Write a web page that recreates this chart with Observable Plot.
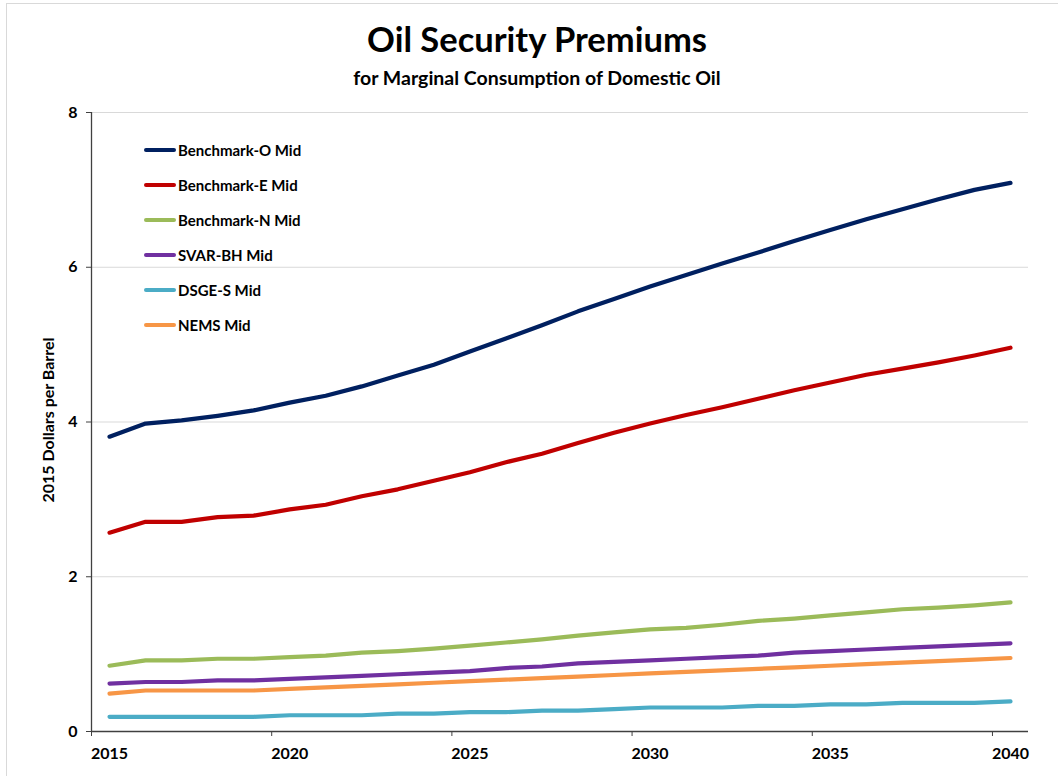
<!DOCTYPE html>
<html>
<head>
<meta charset="utf-8">
<script src="https://cdn.jsdelivr.net/npm/d3@7"></script>
<script src="https://cdn.jsdelivr.net/npm/@observablehq/plot@0.6"></script>
<style>
  html, body { margin: 0; padding: 0; background: #fff; }
  body { width: 1058px; height: 776px; overflow: hidden; font-family: Lato, "Open Sans", sans-serif; }
  #wrap { position: relative; width: 1058px; height: 776px; }
  #frame { position: absolute; left: 6px; top: 3px; width: 1060px; height: 780px; border-left: 1.5px solid #d9d9d9; border-top: 1.5px solid #d9d9d9; pointer-events: none; }
  #head { height: 100px; text-align: center; position: relative; }
  #title { position: absolute; left: 0; right: 0; top: 18px; font-size: 34.5px; font-weight: 700; color: #000; margin-left: 16px; }
  #subtitle { position: absolute; left: 0; right: 0; top: 66px; font-size: 19.5px; font-weight: 700; color: #000; margin-left: 16px; }
  #legend { position: absolute; left: 144px; top: 140px; }
  .li { position: relative; height: 35px; display: flex; align-items: flex-start; }
  .sw { width: 32px; height: 4px; border-radius: 2px; margin-top: 8px; margin-right: 2px; }
  .lt { font-size: 15px; font-weight: 700; color: #000; line-height: 20px; }
  #ylab { position: absolute; left: 47px; top: 420px; transform: translate(-50%, -50%) rotate(-90deg); white-space: nowrap; font-size: 16px; font-weight: 700; color: #000; }
</style>
</head>
<body>
<div id="wrap">
  <div id="head">
    <div id="title">Oil Security Premiums</div>
    <div id="subtitle">for Marginal Consumption of Domestic Oil</div>
  </div>
  <div id="chart"></div>
  <div id="legend"></div>
  <div id="ylab">2015 Dollars per Barrel</div>
  <div id="frame"></div>
</div>
<script>
const years = d3.range(2015, 2041);
const seriesNames = ["Benchmark-O Mid", "Benchmark-E Mid", "Benchmark-N Mid", "SVAR-BH Mid", "DSGE-S Mid", "NEMS Mid"];
const seriesColors = ["#002060", "#C00000", "#9BBB59", "#7030A0", "#4BACC6", "#F79646"];
const benchmarkO = [3.81, 3.98, 4.02, 4.08, 4.15, 4.25, 4.34, 4.46, 4.60, 4.74, 4.91, 5.08, 5.25, 5.43, 5.59, 5.75, 5.90, 6.05, 6.19, 6.34, 6.48, 6.62, 6.75, 6.88, 7.00, 7.09];
const benchmarkE = [2.57, 2.71, 2.71, 2.77, 2.79, 2.87, 2.93, 3.04, 3.13, 3.24, 3.35, 3.48, 3.59, 3.73, 3.86, 3.98, 4.09, 4.19, 4.30, 4.41, 4.51, 4.61, 4.69, 4.77, 4.86, 4.96];
const benchmarkN = [0.85, 0.92, 0.92, 0.94, 0.94, 0.96, 0.98, 1.02, 1.04, 1.07, 1.11, 1.15, 1.19, 1.24, 1.28, 1.32, 1.34, 1.38, 1.43, 1.46, 1.50, 1.54, 1.58, 1.60, 1.63, 1.67];
const svarBH = [0.62, 0.64, 0.64, 0.66, 0.66, 0.68, 0.70, 0.72, 0.74, 0.76, 0.78, 0.82, 0.84, 0.88, 0.90, 0.92, 0.94, 0.96, 0.98, 1.02, 1.04, 1.06, 1.08, 1.10, 1.12, 1.14];
const dsgeS = [0.19, 0.19, 0.19, 0.19, 0.19, 0.21, 0.21, 0.21, 0.23, 0.23, 0.25, 0.25, 0.27, 0.27, 0.29, 0.31, 0.31, 0.31, 0.33, 0.33, 0.35, 0.35, 0.37, 0.37, 0.37, 0.39];
const nems = [0.49, 0.53, 0.53, 0.53, 0.53, 0.55, 0.57, 0.59, 0.61, 0.63, 0.65, 0.67, 0.69, 0.71, 0.73, 0.75, 0.77, 0.79, 0.81, 0.83, 0.85, 0.87, 0.89, 0.91, 0.93, 0.95];
const xTickLabels = [2015, 2020, 2025, 2030, 2035, 2040];
const yTicks = [0, 2, 4, 6, 8];

const allSeries = [benchmarkO, benchmarkE, benchmarkN, svarBH, dsgeS, nems];
const rows = [];
allSeries.forEach((vals, i) => vals.forEach((v, j) => rows.push({year: years[j], value: v, series: seriesNames[i]})));

// category boundaries (Excel-style tick marks between categories)
const boundaries = xTickLabels.map(y => y - 0.5);

const plot = Plot.plot({
  width: 1058,
  height: 676,
  marginTop: 12,
  marginBottom: 45,
  marginLeft: 91,
  marginRight: 30,
  style: {fontFamily: "Lato, 'Open Sans', sans-serif", fontSize: "16px", fontWeight: "700", color: "#000", background: "#fff"},
  x: {domain: [years[0] - 0.5, years[years.length - 1] + 0.5]},
  y: {domain: [0, 8]},
  color: {domain: seriesNames, range: seriesColors},
  marks: [
    Plot.gridY(yTicks.filter(d => d > 0), {stroke: "#d9d9d9", strokeOpacity: 1, strokeWidth: 1.2}),
    Plot.line(rows, {x: "year", y: "value", z: "series", stroke: "series", strokeWidth: 4.2, strokeLinecap: "round", strokeLinejoin: "round"}),
    Plot.ruleY([0], {stroke: "#404040", strokeWidth: 1.3}),
    Plot.ruleX([years[0] - 0.5], {stroke: "#404040", strokeWidth: 1.3}),
    Plot.axisY(yTicks, {tickSize: 5, tickPadding: 9, tickFormat: d => String(d), stroke: "#404040", fill: "#000", fontSize: 16, fontWeight: 700, label: null}),
    Plot.axisX(boundaries, {tickSize: 5, tickFormat: () => "", stroke: "#404040", label: null}),
    Plot.axisX(xTickLabels, {tickSize: 0, tickPadding: 16, tickFormat: d => String(d), fill: "#000", fontSize: 16, fontWeight: 700, label: null})
  ]
});
document.getElementById("chart").appendChild(plot);

const legend = document.getElementById("legend");
seriesNames.forEach((name, i) => {
  const li = document.createElement("div");
  li.className = "li";
  const sw = document.createElement("div");
  sw.className = "sw";
  sw.style.background = seriesColors[i];
  const lt = document.createElement("div");
  lt.className = "lt";
  lt.textContent = name;
  li.appendChild(sw);
  li.appendChild(lt);
  legend.appendChild(li);
});
</script>
</body>
</html>
